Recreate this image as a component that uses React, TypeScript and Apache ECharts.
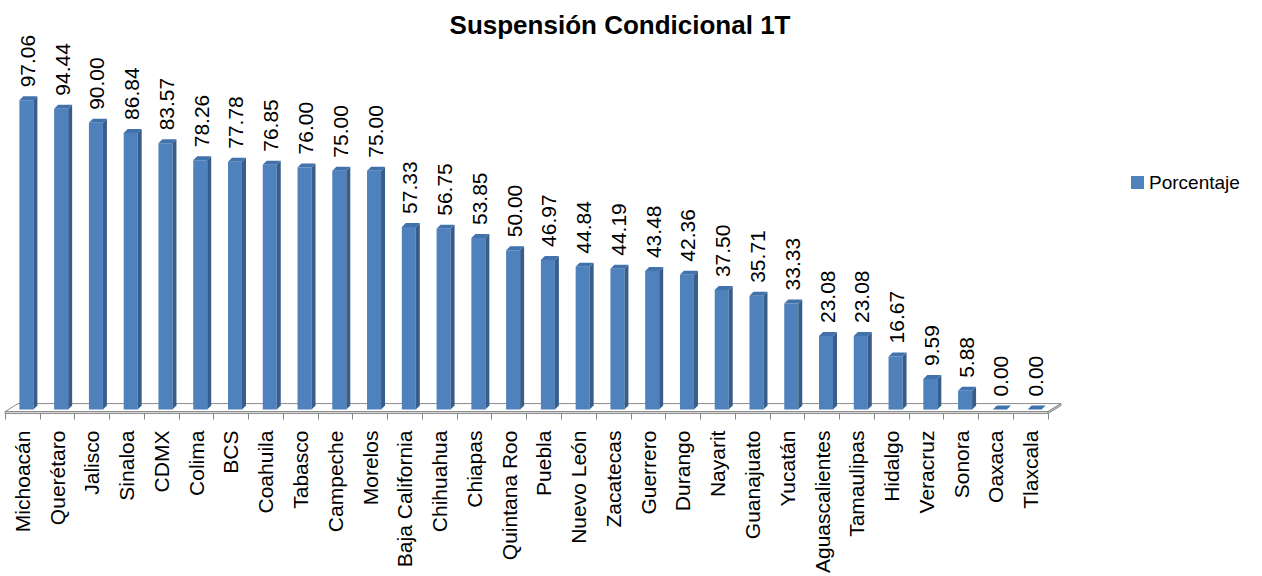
import React, { useEffect, useRef } from "react";
import * as echarts from "echarts";

const categories = [
  "Michoacán", "Querétaro", "Jalisco", "Sinaloa", "CDMX", "Colima", "BCS", "Coahuila",
  "Tabasco", "Campeche", "Morelos", "Baja California", "Chihuahua", "Chiapas", "Quintana Roo",
  "Puebla", "Nuevo León", "Zacatecas", "Guerrero", "Durango", "Nayarit", "Guanajuato",
  "Yucatán", "Aguascalientes", "Tamaulipas", "Hidalgo", "Veracruz", "Sonora", "Oaxaca", "Tlaxcala",
];
const porcentaje = [
  97.06, 94.44, 90.0, 86.84, 83.57, 78.26, 77.78, 76.85, 76.0, 75.0, 75.0, 57.33, 56.75, 53.85,
  50.0, 46.97, 44.84, 44.19, 43.48, 42.36, 37.5, 35.71, 33.33, 23.08, 23.08, 16.67, 9.59, 5.88,
  0.0, 0.0,
];
const titleText = "Suspensión Condicional 1T";
const seriesName = "Porcentaje";

const FONT = "'Liberation Sans', Arial, sans-serif";
const FRONT = "#4F81BD";
const SIDE = "#385D8A";
const TOP = "#4272AC";

export default function App() {
  const ref = useRef<HTMLDivElement>(null);
  useEffect(() => {
    if (!ref.current) return;
    const chart = echarts.init(ref.current, undefined, { renderer: "svg" });
    const option: any = {
      animation: false,
      backgroundColor: "#ffffff",
      title: {
        text: titleText,
        left: 615,
        textAlign: "center",
        top: 7,
        textStyle: { fontFamily: FONT, fontSize: 26, fontWeight: "bold", color: "#000" },
      },
      legend: {
        left: 1126,
        top: 168,
        icon: "rect",
        itemWidth: 13,
        itemHeight: 13,
        data: [seriesName],
        textStyle: { fontFamily: FONT, fontSize: 19, color: "#000" },
      },
      grid: { left: 5, right: 214, top: 94, bottom: 162, containLabel: false },
      xAxis: {
        type: "category",
        data: categories,
        axisLine: { show: false },
        axisTick: { show: true, length: 7, lineStyle: { color: "#868686" } },
        axisLabel: {
          rotate: 90,
          interval: 0,
          margin: 18,
          fontFamily: FONT,
          fontSize: 21,
          color: "#000",
        },
      },
      yAxis: { type: "value", min: 0, max: 100, show: false, splitLine: { show: false } },
      series: [
        {
          type: "custom",
          name: "floor",
          silent: true,
          data: [0],
          renderItem: (params: any, api: any) => {
            const cs = params.coordSys;
            const l = cs.x;
            const r = cs.x + cs.width;
            const b = cs.y + cs.height;
            const dx = 13;
            const dy = 8;
            return {
              type: "group",
              children: [
                {
                  type: "polygon",
                  shape: { points: [[l, b - 1], [r, b - 1], [r + dx, b - 1 - dy], [l + dx, b - 1 - dy]] },
                  style: { fill: "#ffffff", stroke: "#8c8c8c", lineWidth: 1 },
                },
                {
                  type: "polygon",
                  shape: { points: [[l, b - 1], [r, b - 1], [r, b + 1], [l, b + 1]] },
                  style: { fill: "#d9d9d9", stroke: "#8c8c8c", lineWidth: 1 },
                },
                {
                  type: "polygon",
                  shape: { points: [[r, b - 1], [r + dx, b - 1 - dy], [r + dx, b - dy + 1], [r, b + 1]] },
                  style: { fill: "#bfbfbf", stroke: "#8c8c8c", lineWidth: 1 },
                },
              ],
            };
          },
          z: 1,
        },
        {
          type: "custom",
          name: seriesName,
          color: FRONT,
          itemStyle: { color: FRONT },
          data: porcentaje.map((v, i) => [i, v]),
          encode: { x: 0, y: 1 },
          renderItem: (params: any, api: any) => {
            const i = api.value(0);
            const v = api.value(1);
            const top = api.coord([i, v]);
            const base = api.coord([i, 0]);
            const w = 14;
            const d = 4;
            const x0 = top[0] - 3;
            const yb = base[1] - 3;
            const yt = top[1] - 3;
            const x1 = x0 + w;
            return {
              type: "group",
              children: [
                {
                  type: "rect",
                  shape: { x: x0, y: yt, width: w, height: yb - yt },
                  style: { fill: FRONT },
                },
                {
                  type: "polygon",
                  shape: { points: [[x1, yt], [x1 + d, yt - d], [x1 + d, yb - d], [x1, yb]] },
                  style: { fill: SIDE },
                },
                {
                  type: "polygon",
                  shape: { points: [[x0, yt], [x0 + d, yt - d], [x1 + d, yt - d], [x1, yt]] },
                  style: { fill: TOP },
                },
                {
                  type: "text",
                  x: x0 + w / 2 + 1,
                  y: yt - 13,
                  rotation: Math.PI / 2,
                  style: {
                    text: v.toFixed(2),
                    fontFamily: FONT,
                    fontSize: 21,
                    fill: "#000",
                    align: "left",
                    verticalAlign: "middle",
                  },
                },
              ],
            };
          },
          z: 2,
        },
      ],
    };
    chart.setOption(option);
    return () => chart.dispose();
  }, []);
  return (
    <div
      ref={ref}
      style={{ position: "fixed", left: 0, top: 0, width: 1262, height: 576, background: "#fff" }}
    />
  );
}
